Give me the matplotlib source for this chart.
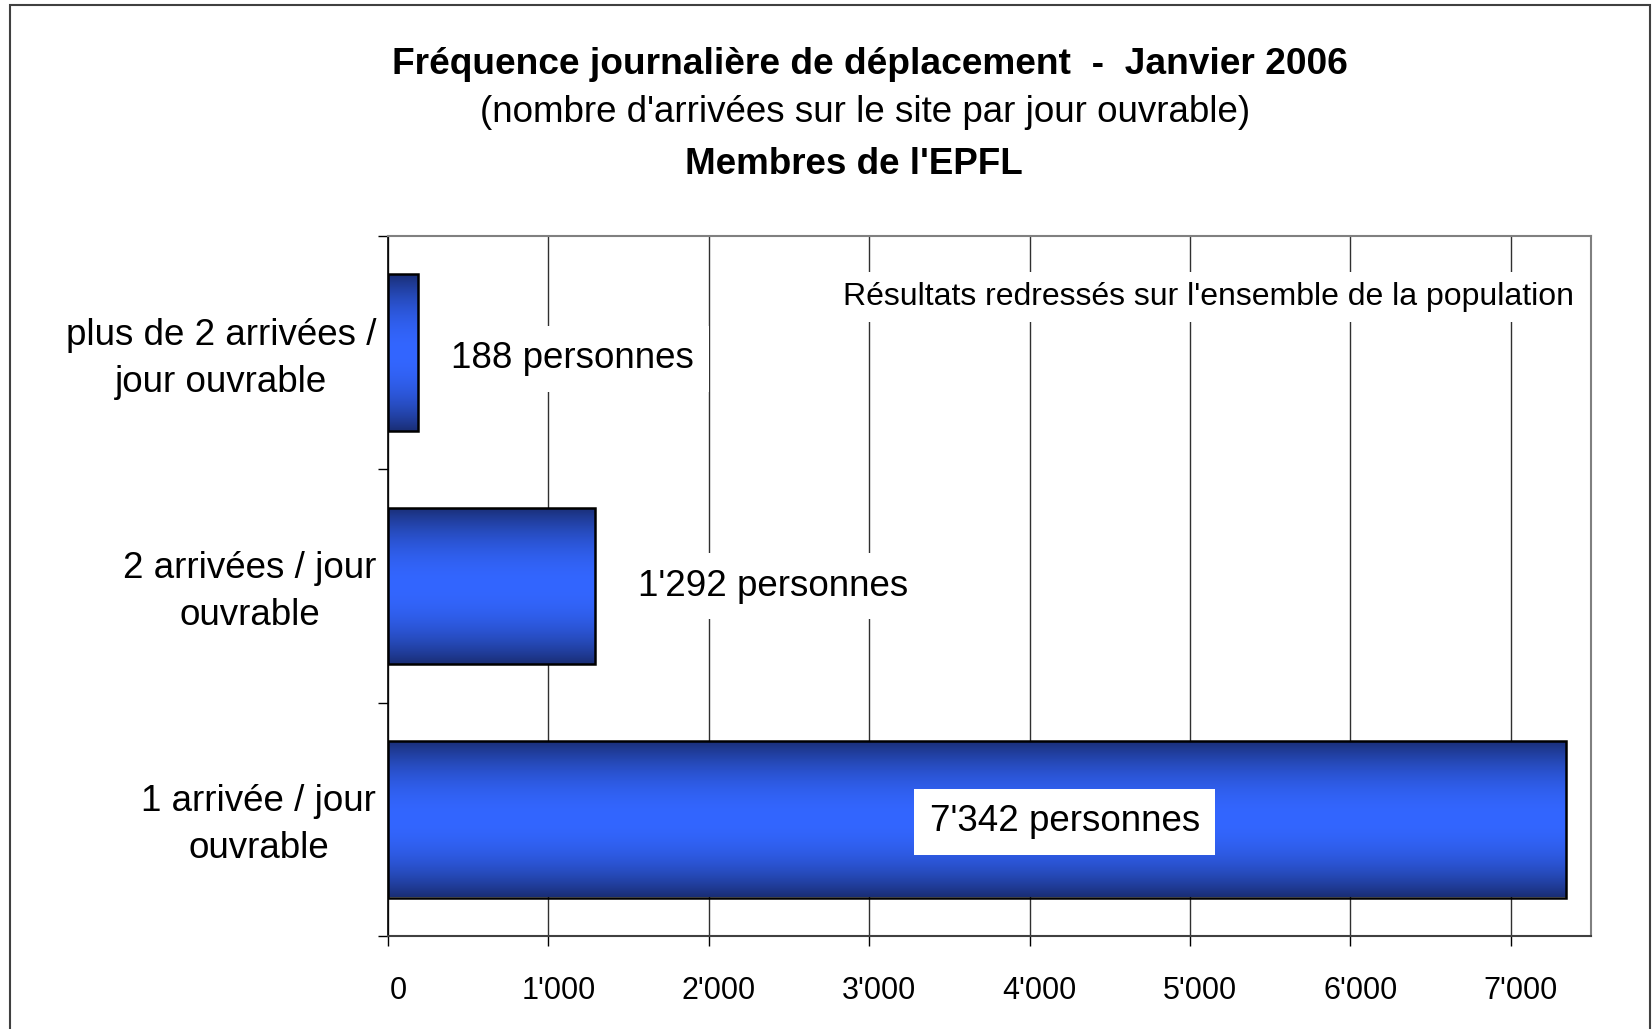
import numpy as np
import matplotlib
matplotlib.use("Agg")
import matplotlib.pyplot as plt
from matplotlib.patches import Rectangle
from matplotlib.transforms import ScaledTranslation

plt.rcParams["font.family"] = ["Liberation Sans", "DejaVu Sans"]

# data (bottom to top)
categories = ["1 arrivée / jour\nouvrable",
              "2 arrivées / jour\nouvrable",
              "plus de 2 arrivées /\njour ouvrable"]
values = [7342, 1292, 188]
value_labels = ["7'342 personnes", "1'292 personnes", "188 personnes"]
x_ticks = [0, 1000, 2000, 3000, 4000, 5000, 6000, 7000]
x_tick_labels = ["0", "1'000", "2'000", "3'000", "4'000", "5'000", "6'000", "7'000"]

# label placement (layout only)
label_x = [4220, 1560, 390]
label_dy = [-0.01, 0.0, -0.027]
label_ha = ["center", "left", "left"]

fig = plt.figure(figsize=(16.52, 10.29), dpi=100)
ax = fig.add_axes([388 / 1652, 1 - 936 / 1029, (1591 - 388) / 1652, (936 - 236) / 1029])

y = np.arange(len(categories))
bars = ax.barh(y, values, height=0.67, color="none", edgecolor="black",
               linewidth=1.8, zorder=3)

# vertical gradient: dark navy at the edges, bright blue in the middle
dark = np.array([0.10, 0.18, 0.46])
bright = np.array([0.20, 0.40, 1.00])
t = np.linspace(-1, 1, 200)
w = 1 - np.abs(t) ** 2
grad = dark + (bright - dark) * w[:, None]
grad = grad[:, None, :]
for bar in bars:
    x0, y0, bw, bh = bar.get_x(), bar.get_y(), bar.get_width(), bar.get_height()
    im = ax.imshow(grad, extent=[x0, x0 + bw, y0, y0 + bh], aspect="auto",
                   interpolation="bilinear", zorder=2.5)
    im.set_clip_path(bar)

ax.set_xlim(0, 7500)
ax.set_ylim(-0.5, len(categories) - 0.5)

# ticks
ax.set_xticks(x_ticks)
ax.set_xticklabels(x_tick_labels, fontsize=22)
ax.tick_params(axis="x", length=7, width=1, pad=21.5, color="black")
for lab in ax.get_xticklabels():
    lab.set_transform(lab.get_transform() + ScaledTranslation(10 / 100, 0, fig.dpi_scale_trans))

ax.set_yticks(y)
ax.set_yticklabels(categories, fontsize=26.5, multialignment="center", linespacing=1.45)
ax.tick_params(axis="y", which="major", length=0, pad=8.5)
for lab in ax.get_yticklabels():
    lab.set_transform(lab.get_transform() + ScaledTranslation(0, 4 / 100, fig.dpi_scale_trans))
ax.set_yticks(np.arange(-0.5, len(categories)), minor=True)
ax.tick_params(axis="y", which="minor", length=7, width=1, color="black")

ax.grid(axis="x", color="#303030", linewidth=1, zorder=0.5)
ax.set_axisbelow(True)

for side in ["top", "right"]:
    ax.spines[side].set_color("#808080")
    ax.spines[side].set_linewidth(1.5)
ax.spines["left"].set_color("black")
ax.spines["bottom"].set_color("#404040")
ax.spines["left"].set_linewidth(1.2)
ax.spines["bottom"].set_linewidth(1.5)

# value labels
for i in range(len(values)):
    ax.text(label_x[i], y[i] + label_dy[i], value_labels[i], fontsize=26.5, ha=label_ha[i],
            va="center", zorder=5,
            bbox=dict(boxstyle="square,pad=0.42", facecolor="white", edgecolor="none"))

ax.text((1574 - 388) / 1203, (936 - 297) / 700,
        "Résultats redressés sur l'ensemble de la population",
        transform=ax.transAxes, fontsize=23, ha="right", va="center", zorder=5,
        bbox=dict(boxstyle="square,pad=0.3", facecolor="white", edgecolor="none"))

# titles
fig.text(870 / 1652, 1 - 64 / 1029, "Fréquence journalière de déplacement  -  Janvier 2006",
         fontsize=26.7, fontweight="bold", ha="center", va="center")
fig.text(865 / 1652, 1 - 113 / 1029, "(nombre d'arrivées sur le site par jour ouvrable)",
         fontsize=26.5, ha="center", va="center")
fig.text(854 / 1652, 1 - 164 / 1029, "Membres de l'EPFL",
         fontsize=26.5, fontweight="bold", ha="center", va="center")

# outer chart frame
fig.patches.append(Rectangle((10 / 1652, -0.02), (1650 - 10) / 1652, 1.02 - 5 / 1029,
                             transform=fig.transFigure, fill=False,
                             edgecolor="#404040", linewidth=1.5))

fig.savefig("out.png", dpi=100)
